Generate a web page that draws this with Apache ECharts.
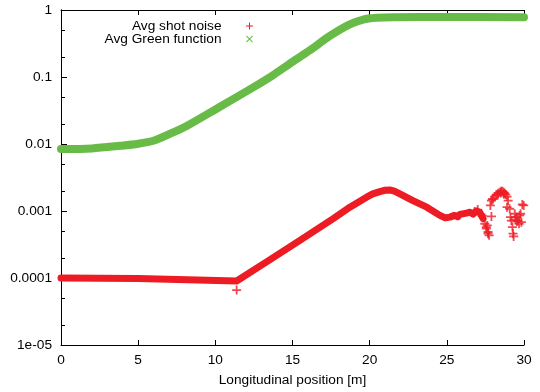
<!DOCTYPE html>
<html>
<head>
<meta charset="utf-8">
<script src="https://cdn.jsdelivr.net/npm/echarts@6/dist/echarts.min.js"></script>
<style>html,body{margin:0;padding:0;background:#fff}#c{width:540px;height:392px}</style>
</head>
<body>
<div id="c"></div>
<script>
// ---- data ----
var greenX = [0, 2, 3.82, 5.0, 5.98, 7.0, 8.14, 10.3, 12.45, 13.75, 14.83, 16.12, 17.42, 18.71, 19.58, 20.44, 21.5, 25, 30];
var greenY = [0.0084, 0.0086, 0.0094, 0.0101, 0.0112, 0.014, 0.0186, 0.036, 0.07, 0.107, 0.158, 0.25, 0.41, 0.61, 0.72, 0.765, 0.782, 0.785, 0.78];

var redX = [0, 5, 11.38, 13.32, 15.48, 17.64, 18.72, 19.8, 20.2, 20.66, 21.0, 21.3, 21.6, 21.96, 22.8, 23.7, 24.55, 24.9, 25.2, 25.5, 25.7, 25.84, 26.27, 26.5, 26.7, 26.92, 27.13, 27.35];
var redY = [1.0e-4, 0.98e-4, 0.9e-4, 1.74e-4, 3.65e-4, 7.7e-4, 1.14e-3, 1.61e-3, 1.8e-3, 1.95e-3, 2.04e-3, 2.06e-3, 1.98e-3, 1.8e-3, 1.43e-3, 1.14e-3, 8.6e-4, 7.9e-4, 8.1e-4, 8.6e-4, 8.2e-4, 8.9e-4, 9.3e-4, 9.6e-4, 9.0e-4, 1.0e-3, 9.5e-4, 7.7e-4];

var noiseX = [11.38, 26.8, 27.0, 27.2, 27.3, 27.46, 27.56, 27.62, 27.67, 27.74, 27.56, 27.67, 27.89, 27.82, 27.89, 27.95, 28.0, 28.1, 28.21, 28.32, 28.43, 28.52, 28.6, 28.68, 28.75, 28.82, 28.9, 28.97, 28.9, 29.07, 29.12, 29.18, 29.25, 29.29, 29.33, 29.4, 29.51, 29.61, 29.68, 29.72, 29.83, 29.89, 29.98, 29.45, 29.55, 29.78, 28.3, 28.5, 28.7];
var noiseY = [6.6e-5, 9.8e-4, 1.05e-3, 9.0e-4, 8.5e-4, 6.45e-4, 5.44e-4, 6.1e-4, 4.86e-4, 4.33e-4, 5.75e-4, 4.58e-4, 8.3e-4, 1.21e-3, 1.43e-3, 1.5e-3, 1.52e-3, 1.64e-3, 1.76e-3, 1.84e-3, 1.91e-3, 1.97e-3, 1.97e-3, 1.91e-3, 1.84e-3, 1.76e-3, 1.64e-3, 1.43e-3, 1.14e-3, 1.08e-3, 8.1e-4, 7.2e-4, 5.75e-4, 4.58e-4, 4.18e-4, 9.1e-4, 8.1e-4, 7.2e-4, 6.45e-4, 8.6e-4, 6.8e-4, 1.25e-3, 1.21e-3, 7.5e-4, 7.0e-4, 9.1e-4, 1.74e-3, 1.86e-3, 1.78e-3];

var xTicks = [0, 5, 10, 15, 20, 25, 30];
var yTickLabels = ['1e-05', '0.0001', '0.001', '0.01', '0.1', '1'];
var yMinorTicks = [2e-5, 5e-5, 2e-4, 5e-4, 2e-3, 5e-3, 2e-2, 5e-2, 0.2, 0.5];
var seriesNames = ['Avg shot noise', 'Avg Green function'];

// ---- styling ----
var RED = '#ed1c24', GREEN = '#67bb46';
var FONT = 'Liberation Sans', FS = 13.7;
var PLUS = 'path://M3,0h1v3h3v1h-3v3h-1v-3h-3v-1h3z';
var PLUS_BOLD = 'path://M2.8,0h1.4v2.8h2.8v1.4h-2.8v2.8h-1.4v-2.8h-2.8v-1.4h2.8z';
var CROSS = 'path://M0.7,0L3.5,2.8L6.3,0L7,0.7L4.2,3.5L7,6.3L6.3,7L3.5,4.2L0.7,7L0,6.3L2.8,3.5L0,0.7Z';

function zip(a, b) { return a.map(function (v, i) { return [v, b[i]]; }); }

var chart = echarts.init(document.getElementById('c'), null, {renderer: 'canvas'});
var axisLine = {show: true, lineStyle: {color: '#000', width: 1}};
var txt = {fontFamily: FONT, fontSize: FS, color: '#000'};
var option = {
  animation: false,
  grid: {left: 61, right: 16, top: 10, bottom: 45},
  legend: [
    {data: [{name: seriesNames[0], icon: PLUS, itemStyle: {color: RED}}], right: 287, top: 19, align: 'right',
     itemWidth: 46, itemHeight: 7, selectedMode: false, padding: 0, textStyle: txt},
    {data: [{name: seriesNames[1], icon: CROSS, itemStyle: {color: GREEN}}], right: 287, top: 32, align: 'right',
     itemWidth: 46, itemHeight: 7, selectedMode: false, padding: 0, textStyle: txt}
  ],
  xAxis: [
    {type: 'value', min: xTicks[0], max: xTicks[xTicks.length - 1], interval: 5, position: 'bottom',
     axisLine: axisLine, axisTick: {inside: true, length: 5, lineStyle: {color: '#000'}},
     axisLabel: Object.assign({margin: 8}, txt),
     splitLine: {show: false},
     name: 'Longitudinal position [m]', nameLocation: 'middle', nameGap: 28,
     nameTextStyle: txt},
    {type: 'value', min: xTicks[0], max: xTicks[xTicks.length - 1], interval: 5, position: 'top',
     axisLine: axisLine, axisTick: {inside: true, length: 5, lineStyle: {color: '#000'}},
     axisLabel: {show: false}, splitLine: {show: false}}
  ],
  yAxis: [
    {type: 'log', logBase: 10, min: 1e-5, max: 1, position: 'left',
     axisLine: axisLine, axisTick: {inside: true, length: 6, lineStyle: {color: '#000'}},
     axisLabel: Object.assign({margin: 9,
       formatter: function (v) { return yTickLabels[Math.round(Math.log10(v)) + 5]; }}, txt),
     splitLine: {show: false}, minorTick: {show: false}},
    {type: 'log', logBase: 10, min: 1e-5, max: 1, position: 'right',
     axisLine: axisLine, axisTick: {show: false}, axisLabel: {show: false}, splitLine: {show: false}}
  ],
  series: [
    {type: 'custom', silent: true, clip: false, z: 5,
     data: yMinorTicks.map(function (v) { return [xTicks[0], v]; }),
     renderItem: function (params, api) {
       var p = api.coord([api.value(0), api.value(1)]);
       var y = Math.round(p[1]) + 0.5;
       return {type: 'line', shape: {x1: p[0], y1: y, x2: p[0] + 4, y2: y},
               style: {stroke: '#000', lineWidth: 1}};
     }},
    {name: seriesNames[0], type: 'line', data: zip(redX, redY), showSymbol: false, smooth: false,
     lineStyle: {color: RED, width: 7, cap: 'round', join: 'round'}, itemStyle: {color: RED}, z: 3},
    {name: seriesNames[0], type: 'scatter', data: zip(noiseX, noiseY), symbol: PLUS_BOLD, symbolSize: 9,
     itemStyle: {color: RED}, z: 3},
    {name: seriesNames[1], type: 'line', data: zip(greenX, greenY), showSymbol: false, smooth: 0.3,
     lineStyle: {color: GREEN, width: 8, cap: 'round', join: 'round'}, itemStyle: {color: GREEN}, z: 2}
  ]
};
chart.setOption(option);
</script>
</body>
</html>
